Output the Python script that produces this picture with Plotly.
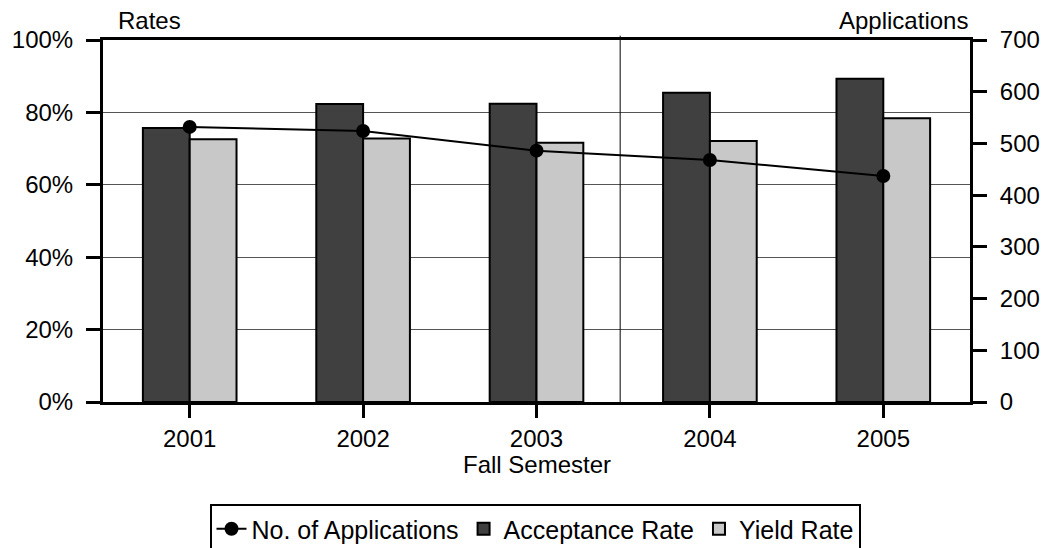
import plotly.graph_objects as go

years = ["2001", "2002", "2003", "2004", "2005"]
acceptance_rate = [0.757, 0.823, 0.824, 0.854, 0.893]
yield_rate = [0.726, 0.728, 0.716, 0.721, 0.784]
applications = [532, 524, 486, 468, 437]

FONT = "Liberation Sans, Arial, sans-serif"
FS = 24

fig = go.Figure()
fig.add_trace(go.Bar(
    x=years, y=acceptance_rate, name="Acceptance Rate",
    marker=dict(color="#404040", line=dict(color="#000000", width=2)),
    legendrank=2,
))
fig.add_trace(go.Bar(
    x=years, y=yield_rate, name="Yield Rate",
    marker=dict(color="#C8C8C8", line=dict(color="#000000", width=2)),
    legendrank=3,
))
fig.add_trace(go.Scatter(
    x=years, y=applications, name="No. of Applications", yaxis="y2",
    mode="lines+markers",
    line=dict(color="#000000", width=2),
    marker=dict(color="#000000", size=14),
    legendrank=1,
))

fig.update_layout(
    width=1052, height=548,
    margin=dict(l=102, r=77, t=40, b=146),
    paper_bgcolor="white", plot_bgcolor="white",
    font=dict(family=FONT, size=FS, color="#000000"),
    barmode="group", bargap=0.46, bargroupgap=0,
    showlegend=True,
    legend=dict(
        orientation="h", xref="container", yref="container",
        x=535 / 1052, xanchor="center", y=1 - 504 / 548, yanchor="top",
        bordercolor="#000000", borderwidth=2, font=dict(size=25),
        itemwidth=30, tracegroupgap=0,
    ),
    xaxis=dict(
        type="category", showline=True, linecolor="#000000", linewidth=3,
        mirror=True, ticks="outside", ticklen=13, tickwidth=3, tickcolor="#000000",
        showgrid=False, ticklabelstandoff=0,
    ),
    yaxis=dict(
        range=[0, 1], dtick=0.2, tickformat=".0%",
        showline=True, linecolor="#000000", linewidth=3,
        ticks="outside", ticklen=14, tickwidth=3, tickcolor="#000000",
        showgrid=True, gridcolor="#555555", gridwidth=1,
        zeroline=False, ticklabelstandoff=8,
    ),
    yaxis2=dict(
        range=[0, 700], dtick=100, overlaying="y", side="right",
        showline=True, linecolor="#000000", linewidth=3,
        ticks="outside", ticklen=14, tickwidth=3, tickcolor="#000000",
        showgrid=False, zeroline=False, ticklabelstandoff=8,
    ),
    shapes=[
        dict(type="line", xref="paper", yref="paper", x0=0.5965, x1=0.5965,
             y0=-0.008, y1=1.012, line=dict(color="#000000", width=1)),
    ],
    annotations=[
        dict(text="Rates", xref="paper", yref="paper", x=0.015, y=1.054,
             xanchor="left", yanchor="middle", showarrow=False, font=dict(size=FS)),
        dict(text="Applications", xref="paper", yref="paper", x=1.0, y=1.054,
             xanchor="right", yanchor="middle", showarrow=False, font=dict(size=FS)),
        dict(text="Fall Semester", xref="paper", yref="paper", x=0.5, y=(402 - 464) / 362,
             xanchor="center", yanchor="middle", showarrow=False, font=dict(size=FS)),
        dict(text="Applications", xref="paper", yref="paper", x=(350 - 102) / 873,
             y=1 + (40 - 2) / 362, xanchor="left", yanchor="bottom",
             showarrow=False, font=dict(size=20)),
    ],
)

fig.write_html("out.html", config={"displayModeBar": False},
               post_script="document.body.style.margin='0';")
